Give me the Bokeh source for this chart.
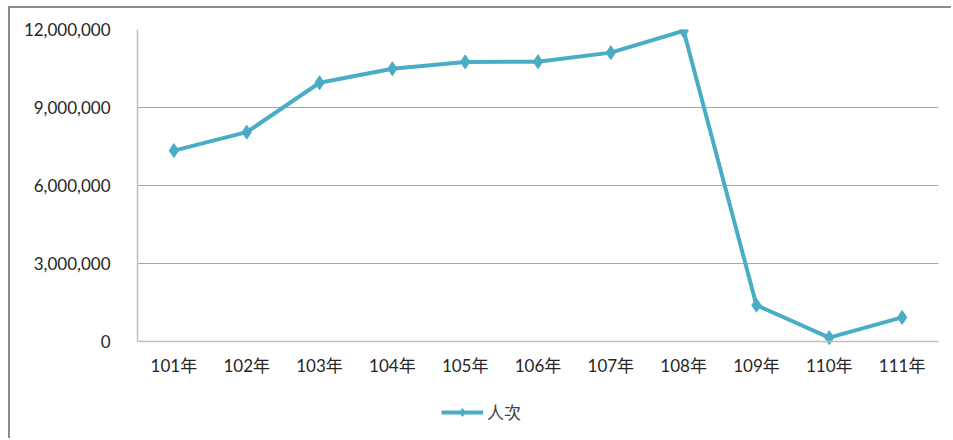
from bokeh.plotting import figure
from bokeh.models import (ColumnDataSource, NumeralTickFormatter, FixedTicker,
                          Legend, LegendItem, Range1d)
from bokeh.embed import file_html
from bokeh.resources import INLINE

years = ["101年", "102年", "103年", "104年", "105年", "106年",
         "107年", "108年", "109年", "110年", "111年"]
visits = [7340000, 8050000, 9950000, 10490000, 10750000, 10760000,
          11110000, 11950000, 1390000, 140000, 920000]
y_ticks = [0, 3000000, 6000000, 9000000, 12000000]

LINE = "#4BACC6"
FONT = "Lato, 'Noto Sans CJK TC', sans-serif"

src = ColumnDataSource(dict(year=years, visits=visits))

# the frame extends below zero to leave room for the category labels and legend
p = figure(width=943, height=432, x_range=years, y_range=Range1d(-3740000, 12000000),
           output_backend="svg", toolbar_location=None,
           min_border_left=127, min_border_top=21, min_border_right=15,
           min_border_bottom=2)
p.x_range.range_padding = 0
p.styles = {"border-top": "2px solid #8c8c8c", "border-left": "2px solid #8c8c8c",
            "margin-left": "8px", "margin-top": "6px"}
p.outline_line_color = None
p.background_fill_color = "white"
p.border_fill_color = "white"

r_line = p.line("year", "visits", source=src, line_color=LINE, line_width=4)
r_pts = p.scatter("year", "visits", source=src, marker="diamond", size=14,
                  fill_color=LINE, line_color=LINE)

p.xgrid.grid_line_color = None
p.ygrid.grid_line_color = "#a6a6a6"
p.ygrid.grid_line_width = 1
p.yaxis.ticker = FixedTicker(ticks=y_ticks)
p.yaxis.formatter = NumeralTickFormatter(format="0,0")
p.yaxis.bounds = (0, 12000000)
p.xaxis.fixed_location = 0

for ax in (p.xaxis[0], p.yaxis[0]):
    ax.axis_line_color = "#bfbfbf"
    ax.axis_line_width = 1.5
    ax.major_tick_line_color = None
    ax.minor_tick_line_color = None
    ax.major_label_text_font = FONT
    ax.major_label_text_font_size = "17px"
    ax.major_label_text_color = "#262626"
p.yaxis.major_label_standoff = 21
p.xaxis.major_label_standoff = 8

legend = Legend(items=[LegendItem(label="人次", renderers=[r_line, r_pts])],
                location=(304, 14), orientation="horizontal",
                label_text_font=FONT, label_text_font_size="17px",
                label_text_color="#404040", glyph_width=42, glyph_height=20,
                border_line_color=None, background_fill_alpha=0,
                margin=0, padding=4, label_standoff=4)
p.add_layout(legend, "center")

open("out.html", "w").write(file_html(p, INLINE))
